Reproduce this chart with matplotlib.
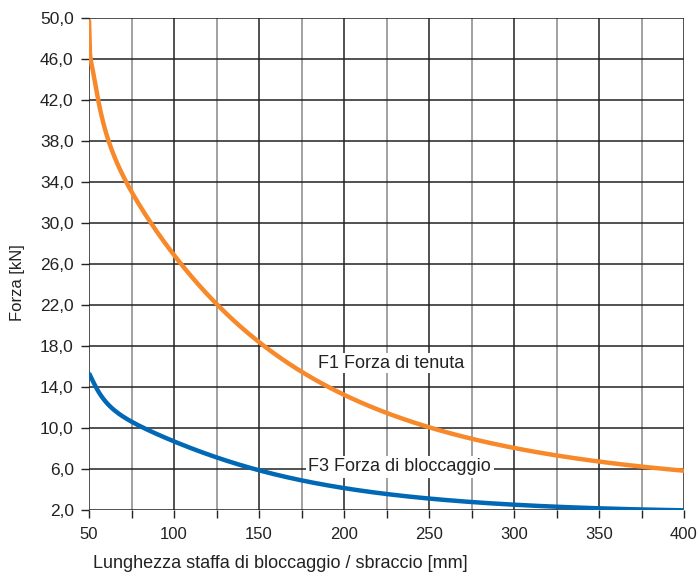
import matplotlib as mpl
import matplotlib.pyplot as plt
import numpy as np

plt.rcParams['font.family'] = ['Liberation Sans', 'DejaVu Sans']

# valori
x_f1 = [50, 51.2, 54.7, 62.4, 73.1, 75, 100, 125, 150, 175, 200, 225, 250, 275, 300, 325, 350, 375, 400]
f1 = [49.8, 46.0, 42.0, 38.0, 34.0, 33.2, 26.1, 22.0, 18.35, 15.6, 13.6, 11.7, 10.05, 8.8, 8.0, 7.2, 6.65, 6.25, 5.95]

x_f3 = [50, 53.2, 57.5, 65.5, 75, 83, 100, 125, 150, 175, 200, 225, 250, 275, 300, 325, 350, 375, 400]
f3 = [15.5, 14.0, 13.0, 11.9, 10.75, 9.9, 8.5, 7.0, 5.95, 4.95, 4.2, 3.6, 3.1, 2.75, 2.5, 2.3, 2.15, 2.05, 2.0]

xticks = np.arange(50, 401, 50)
xminor = np.arange(75, 401, 50)
yticks = np.arange(2, 51, 4)


def smooth_line(xs, ys, shift, deg, n=600):
    # least squares curve through the read points, only to draw a smooth line
    xs = np.asarray(xs, float)
    u = np.log(xs - shift)
    v = np.log(np.asarray(ys, float))
    p = np.polyfit(u, v, deg)
    xx = np.linspace(xs[0], xs[-1], n)
    return xx, np.exp(np.polyval(p, np.log(xx - shift)))


fig = plt.figure(figsize=(7, 5.75), dpi=100)
ax = fig.add_axes([89/700, 1 - 510/575, 595/700, 492/575])

for xv in xticks:
    ax.axvline(xv, color='#222222', lw=1.1, zorder=1)
for xv in xminor:
    ax.axvline(xv, color='#888888', lw=1.1, zorder=1)
for yv in yticks:
    ax.axhline(yv, color='#222222', lw=1.1, zorder=1)

xs, ys = smooth_line(x_f1, f1, 49, 6)
ax.plot(xs, ys, color='#F7892A', lw=3.2, solid_capstyle='butt', zorder=3)
xs, ys = smooth_line(x_f3, f3, 40, 5)
ax.plot(xs, ys, color='#0068B4', lw=3.2, solid_capstyle='butt', zorder=3)

ax.text(185, 16.3, 'F1 Forza di tenuta', fontsize=13, color='#222222', va='center', ha='left',
        bbox=dict(facecolor='white', edgecolor='none', pad=1.0), zorder=2)
ax.text(179, 6.2, 'F3 Forza di bloccaggio', fontsize=13, color='#222222', va='center', ha='left',
        bbox=dict(facecolor='white', edgecolor='none', pad=2.0), zorder=2)

ax.set_xlim(50, 400)
ax.set_ylim(2, 50)
ax.set_xticks(np.arange(50, 401, 25))
ax.set_xticklabels([str(v) if v % 50 == 0 else '' for v in np.arange(50, 401, 25)])
ax.set_yticks(yticks)
ax.set_yticklabels([f'{v:.1f}'.replace('.', ',') for v in yticks])
ax.tick_params(direction='out', length=6, width=1, color='#222222', labelcolor='#222222')
ax.tick_params(axis='x', pad=6, labelsize=12)
ax.tick_params(axis='y', pad=5, labelsize=12.5)
for s in ax.spines.values():
    s.set_visible(False)

fig.text(93/700, 1 - 563/575, 'Lunghezza staffa di bloccaggio / sbraccio [mm]', fontsize=13,
         color='#222222', ha='left', va='center')
fig.text(18/700, 1 - 283/575, 'Forza [kN]', fontsize=12, color='#222222', rotation=90,
         ha='center', va='center')

fig.savefig('out.png', dpi=100)
